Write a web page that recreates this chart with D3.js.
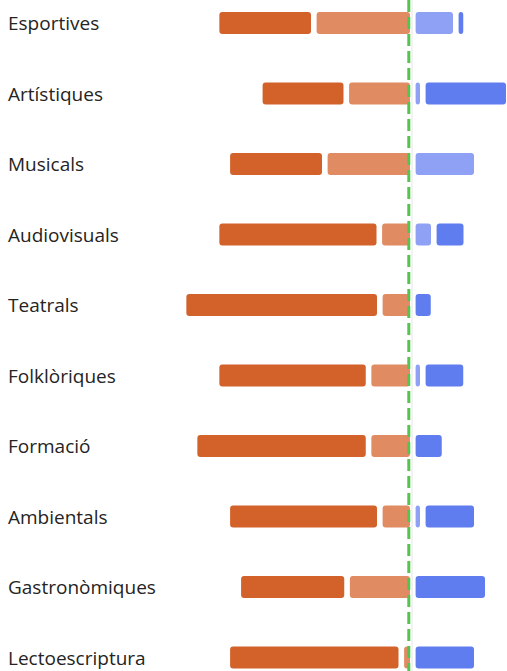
<!DOCTYPE html>
<html>
<head>
<meta charset="utf-8">
<script src="https://cdn.jsdelivr.net/npm/d3@7"></script>
<style>
  html, body { margin: 0; padding: 0; background: #ffffff; }
  svg { display: block; }
</style>
</head>
<body>
<svg id="chart" width="507" height="671"></svg>
<script>
const categories = ["Esportives", "Artístiques", "Musicals", "Audiovisuals", "Teatrals",
  "Folklòriques", "Formació", "Ambientals", "Gastronòmiques", "Lectoescriptura"];
const darkOrange  = [38.9, 34.6, 39.0, 65.1, 78.5, 60.8, 69.6, 61.0, 43.5, 69.6];
const lightOrange = [39.6, 26.6, 35.2, 13.4, 13.2, 17.7, 17.7, 13.2, 26.3, 4.6];
const lightBlue   = [17.2, 4.0, 25.6, 8.4, 0, 4.0, 0, 4.0, 0, 0];
const darkBlue    = [4.1, 34.4, 0, 13.0, 8.3, 17.3, 12.7, 21.6, 30.0, 25.6];
const xDomain = [-100, 40];
const referenceLine = -1.6;

const colors = { darkOrange: "#D2612A", lightOrange: "#E08B62", lightBlue: "#8FA1F4", darkBlue: "#5F7DEE" };

const svg = d3.select("#chart");
const W = 507, H = 671;

const x = d3.scaleLinear().domain(xDomain).range([162.8, 512.8]);
const y = d3.scalePoint().domain(categories).range([23, 657.5]);
const barH = 22, inset = 2.8;

// baseline grey line
svg.append("line")
  .attr("x1", x(0) - 0.8).attr("x2", x(0) - 0.8)
  .attr("y1", 0).attr("y2", H)
  .attr("stroke", "#e6e6e6").attr("stroke-width", 1);

const segs = [];
categories.forEach((c, i) => {
  let l = 0;
  [["lightOrange", lightOrange[i]], ["darkOrange", darkOrange[i]]].forEach(([k, v]) => {
    segs.push({ cat: c, key: k, x0: l - v, x1: l });
    l -= v;
  });
  let r = 0;
  [["lightBlue", lightBlue[i]], ["darkBlue", darkBlue[i]]].forEach(([k, v]) => {
    segs.push({ cat: c, key: k, x0: r, x1: r + v });
    r += v;
  });
});

svg.append("g").selectAll("rect")
  .data(segs.filter(d => d.x1 - d.x0 > 0))
  .join("rect")
  .attr("x", d => x(d.x0) + inset)
  .attr("width", d => Math.max(0, x(d.x1) - x(d.x0) - 2 * inset))
  .attr("y", d => y(d.cat) - barH / 2)
  .attr("height", barH)
  .attr("rx", 3).attr("ry", 3)
  .attr("fill", d => colors[d.key]);

// labels
svg.append("g").selectAll("text")
  .data(categories)
  .join("text")
  .attr("x", 8)
  .attr("y", d => y(d) + 7.3)
  .attr("font-family", "'Open Sans', 'Noto Sans', sans-serif")
  .attr("font-size", 19)
  .attr("fill", "#252423")
  .text(d => d);

// green dashed reference line
svg.append("line")
  .attr("x1", x(referenceLine)).attr("x2", x(referenceLine))
  .attr("y1", 0).attr("y2", H)
  .attr("stroke", "#55C44F").attr("stroke-width", 3)
  .attr("stroke-dasharray", "12,5");
</script>
</body>
</html>
